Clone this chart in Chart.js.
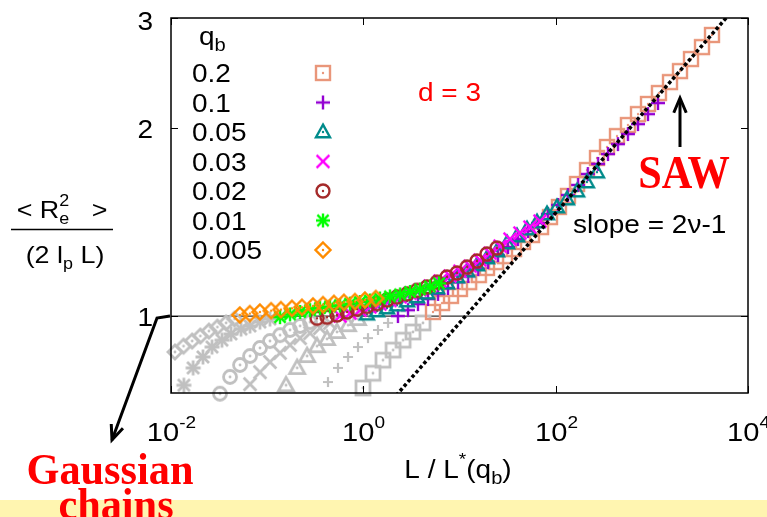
<!DOCTYPE html>
<html>
<head>
<meta charset="utf-8">
<script src="https://cdn.jsdelivr.net/npm/chart.js@4/dist/chart.umd.min.js"></script>
<style>
  html, body { margin: 0; padding: 0; background: #fff; }
  canvas { display: block; }
</style>
</head>
<body>
<canvas id="c" width="767" height="517"></canvas>
<script>
// ---- data: <Re^2>/(2 lp L) against L/L*(qb) ----
const qbLabels = ['0.2', '0.1', '0.05', '0.03', '0.02', '0.01', '0.005'];

// qb = 0.2
const q020_x = [5.30, 6.58, 8.15, 10.1, 12.6, 15.9, 19.3, 24.0, 29.7, 36.9, 45.7, 56.7, 70.4, 87.2, 108, 134, 167, 212, 269, 342, 434, 564, 717, 912, 1185, 1544, 1961, 2552, 3321, 4219];
const q020_y = [1.015, 1.049, 1.077, 1.105, 1.133, 1.163, 1.194, 1.220, 1.247, 1.280, 1.314, 1.348, 1.388, 1.440, 1.495, 1.557, 1.627, 1.713, 1.791, 1.865, 1.941, 2.022, 2.105, 2.185, 2.275, 2.369, 2.467, 2.579, 2.695, 2.818];
const q020g_x = [0.992, 1.26, 1.60, 2.04, 2.59, 3.28, 4.17];
const q020g_y = [0.767, 0.810, 0.850, 0.882, 0.915, 0.943, 0.975];

// qb = 0.1
const q010_x = [2.29, 2.91, 3.70, 4.70, 5.98, 7.59, 9.65, 12.3, 15.6, 19.8, 25.1, 31.9, 40.5, 51.5, 65.5, 83.1, 106, 134, 171, 216, 276, 350, 444, 564, 718, 911, 1158];
const q010_y = [1.000, 1.022, 1.045, 1.065, 1.085, 1.109, 1.133, 1.159, 1.189, 1.220, 1.252, 1.290, 1.328, 1.368, 1.409, 1.457, 1.506, 1.562, 1.621, 1.688, 1.752, 1.817, 1.885, 1.956, 2.029, 2.105, 2.193];
const q010g_x = [0.429, 0.545, 0.693, 0.880, 1.118, 1.420, 1.806];
const q010g_y = [0.784, 0.826, 0.860, 0.892, 0.922, 0.950, 0.975];

// qb = 0.05
const q005_x = [1.09, 1.39, 1.76, 2.24, 2.85, 3.61, 4.59, 5.84, 7.41, 9.42, 12.0, 15.2, 19.3, 24.5, 31.2, 39.6, 50.3, 63.9, 81.2, 103, 131, 167, 211, 269];
const q005_y = [1.007, 1.019, 1.030, 1.041, 1.057, 1.073, 1.088, 1.109, 1.129, 1.155, 1.180, 1.207, 1.239, 1.271, 1.309, 1.343, 1.378, 1.414, 1.457, 1.495, 1.539, 1.585, 1.639, 1.700];
const q005g_x = [0.157, 0.205, 0.260, 0.330, 0.419, 0.532, 0.693, 0.880];
const q005g_y = [0.775, 0.826, 0.863, 0.895, 0.919, 0.943, 0.967, 0.989];

// qb = 0.03
const q003_x = [0.572, 0.727, 0.923, 1.17, 1.49, 1.89, 2.41, 3.06, 3.88, 4.93, 6.27, 7.96, 10.1, 12.9, 16.3, 20.8, 26.4, 33.5, 42.5, 54.0, 68.7];
const q003_y = [1.000, 1.011, 1.022, 1.034, 1.045, 1.059, 1.073, 1.087, 1.101, 1.117, 1.138, 1.159, 1.180, 1.202, 1.229, 1.261, 1.294, 1.328, 1.358, 1.388, 1.419];
const q003g_x = [0.0663, 0.0842, 0.107, 0.136, 0.173, 0.220, 0.279, 0.354, 0.450];
const q003g_y = [0.778, 0.813, 0.844, 0.873, 0.899, 0.922, 0.939, 0.957, 0.975];

// qb = 0.02
const q002_x = [0.330, 0.419, 0.532, 0.677, 0.859, 1.09, 1.39, 1.76, 2.24, 2.85, 3.61, 4.59, 5.84, 7.41, 9.42, 12.0, 15.2, 19.3, 24.5];
const q002_y = [0.992, 0.996, 1.004, 1.015, 1.026, 1.036, 1.047, 1.061, 1.073, 1.085, 1.099, 1.113, 1.133, 1.155, 1.172, 1.198, 1.225, 1.257, 1.285];
const q002g_x = [0.0323, 0.0411, 0.0522, 0.0663, 0.0842, 0.107, 0.136, 0.173, 0.220, 0.279];
const q002g_y = [0.751, 0.799, 0.835, 0.863, 0.889, 0.912, 0.932, 0.950, 0.964, 0.978];

// qb = 0.01
const q001_x = [0.136, 0.173, 0.220, 0.279, 0.354, 0.450, 0.572, 0.727, 0.923, 1.17, 1.49, 1.89, 2.41, 3.06, 3.88, 4.93, 6.12];
const q001_y = [0.996, 1.006, 1.015, 1.022, 1.030, 1.036, 1.041, 1.047, 1.053, 1.059, 1.067, 1.075, 1.083, 1.093, 1.103, 1.115, 1.128];
const q001g_x = [0.0136, 0.0170, 0.0215, 0.0267, 0.0339, 0.0421, 0.0535, 0.0663, 0.0842, 0.107];
const q001g_y = [0.775, 0.826, 0.860, 0.892, 0.915, 0.936, 0.953, 0.964, 0.978, 0.989];

// qb = 0.005
const q0005_x = [0.052, 0.066, 0.084, 0.110, 0.139, 0.181, 0.230, 0.300, 0.381, 0.495, 0.629, 0.819, 1.04, 1.35];
const q0005_y = [1.004, 1.009, 1.015, 1.020, 1.024, 1.029, 1.033, 1.038, 1.043, 1.048, 1.052, 1.055, 1.061, 1.067];
const q0005g_x = [0.0110, 0.0135, 0.0166, 0.0202, 0.0248, 0.0304, 0.0374, 0.0458];
const q0005g_y = [0.876, 0.895, 0.912, 0.929, 0.946, 0.960, 0.975, 0.989];

// SAW asymptote (slope 2nu-1) and the Gaussian reference level
const sawLine_x = [1.5, 10000];
const sawLine_y = [0.698, 3.29];
const unitLine_x = [0.01, 10000];
const unitLine_y = [1, 1];

// axes
const xTickExps = [-2, 0, 2, 4];
const yTicks = [1, 2, 3];
const X_MIN = 0.01, X_MAX = 10000, Y_MIN = 0.753, Y_MAX = 3;

// ---- marker glyphs ----
function marker(kind, color, s, lw) {
  const pad = Math.ceil(lw) + 2;
  const n = 2 * Math.ceil(s + pad);
  const cv = document.createElement('canvas');
  cv.width = n; cv.height = n;
  const g = cv.getContext('2d');
  g.translate(n / 2, n / 2);
  g.strokeStyle = color; g.fillStyle = color; g.lineWidth = lw;
  g.lineCap = 'butt'; g.lineJoin = 'miter';
  const dot = () => { g.beginPath(); g.arc(0, 0, Math.max(1, lw * 0.5), 0, Math.PI * 2); g.fill(); };
  const plus = () => { g.beginPath(); g.moveTo(-s, 0); g.lineTo(s, 0); g.moveTo(0, -s); g.lineTo(0, s); g.stroke(); };
  const cross = () => { const d = s * 0.8; g.beginPath(); g.moveTo(-d, -d); g.lineTo(d, d); g.moveTo(-d, d); g.lineTo(d, -d); g.stroke(); };
  switch (kind) {
    case 'square': g.strokeRect(-s, -s, 2 * s, 2 * s); dot(); break;
    case 'plus': plus(); break;
    case 'cross': cross(); break;
    case 'triangle':
      g.beginPath(); g.moveTo(0, -s * 1.05); g.lineTo(s, s * 0.75); g.lineTo(-s, s * 0.75); g.closePath(); g.stroke(); dot(); break;
    case 'circle': g.beginPath(); g.arc(0, 0, s, 0, Math.PI * 2); g.stroke(); dot(); break;
    case 'star': plus(); cross(); break;
    case 'diamond':
      g.beginPath(); g.moveTo(0, -s); g.lineTo(s, 0); g.lineTo(0, s); g.lineTo(-s, 0); g.closePath(); g.stroke(); dot(); break;
  }
  return cv;
}

const GRAY = '#c0c0c0';
const series = [
  { x: q020_x,  y: q020_y,  gx: q020g_x,  gy: q020g_y,  kind: 'square',   color: '#e9967a', s: 7,   gs: 7,   glw: 2.8 },
  { x: q010_x,  y: q010_y,  gx: q010g_x,  gy: q010g_y,  kind: 'plus',     color: '#9400d3', s: 7,   gs: 5,   glw: 2.2 },
  { x: q005_x,  y: q005_y,  gx: q005g_x,  gy: q005g_y,  kind: 'triangle', color: '#008b8b', s: 7,   gs: 7.5, glw: 2.8 },
  { x: q003_x,  y: q003_y,  gx: q003g_x,  gy: q003g_y,  kind: 'cross',    color: '#ff00ff', s: 8,   gs: 8,   glw: 2.8 },
  { x: q002_x,  y: q002_y,  gx: q002g_x,  gy: q002g_y,  kind: 'circle',   color: '#a52a2a', s: 6.5, gs: 6.5, glw: 2.8 },
  { x: q001_x,  y: q001_y,  gx: q001g_x,  gy: q001g_y,  kind: 'star',     color: '#00ff00', s: 7,   gs: 7.5, glw: 2.8 },
  { x: q0005_x, y: q0005_y, gx: q0005g_x, gy: q0005g_y, kind: 'diamond',  color: '#ff8c00', s: 7.5, gs: 7,   glw: 2.8 }
];
series.forEach(sr => {
  sr.img = marker(sr.kind, sr.color, sr.s, 2.4);
  sr.gimg = marker(sr.kind, GRAY, sr.gs, sr.glw);
});

const pts = (xs, ys) => xs.map((x, i) => ({ x, y: ys[i] }));

const datasets = [];
datasets.push({ data: pts(unitLine_x, unitLine_y), showLine: true, borderColor: '#333', borderWidth: 1.3, pointRadius: 0, order: 100 });
series.forEach((sr, i) => {
  datasets.push({ data: pts(sr.gx, sr.gy), pointStyle: sr.gimg, pointRadius: 6, showLine: false, clip: false, order: 50 + i });
});
series.forEach((sr, i) => {
  // smaller qb values are drawn on top
  datasets.push({ data: pts(sr.x, sr.y), pointStyle: sr.img, pointRadius: 6, showLine: false, clip: false, order: 30 - i });
});
datasets.push({ data: pts(sawLine_x, sawLine_y), showLine: true, borderColor: '#000', borderWidth: 3.5, borderDash: [3.5, 2.5], pointRadius: 0, order: 1 });

// ---- text helpers ----
const SANS = '"Liberation Sans", Arial, sans-serif';
const SERIF = '"Liberation Serif", "Times New Roman", serif';
const SX = 1.12; // sans text is drawn slightly wide

// parts: { t, size, dy, w (weight), fam, stay (no advance) }
function rich(ctx, parts, x, y, align, sx, color) {
  let w = 0;
  parts.forEach(p => {
    ctx.font = (p.w || '') + ' ' + p.size + 'px ' + (p.fam || SANS);
    p.width = ctx.measureText(p.t).width;
    if (!p.stay) w += p.width;
  });
  const x0 = align === 'center' ? x - w * sx / 2 : align === 'right' ? x - w * sx : x;
  ctx.save();
  ctx.translate(x0, y);
  ctx.scale(sx, 1);
  ctx.fillStyle = color || '#000';
  ctx.textBaseline = 'alphabetic';
  ctx.textAlign = 'left';
  let ox = 0;
  parts.forEach(p => {
    ctx.font = (p.w || '') + ' ' + p.size + 'px ' + (p.fam || SANS);
    ctx.fillText(p.t, ox, p.dy || 0);
    if (!p.stay) ox += p.width;
  });
  ctx.restore();
}

function arrowHead(ctx, x0, y0, x1, y1, len, ang) {
  const a = Math.atan2(y1 - y0, x1 - x0);
  ctx.beginPath();
  ctx.moveTo(x1 - len * Math.cos(a - ang), y1 - len * Math.sin(a - ang));
  ctx.lineTo(x1, y1);
  ctx.lineTo(x1 - len * Math.cos(a + ang), y1 - len * Math.sin(a + ang));
  ctx.stroke();
}

const decor = {
  id: 'decor',
  beforeDraw(chart) {
    const ctx = chart.ctx;
    ctx.save();
    ctx.fillStyle = '#fff';
    ctx.fillRect(0, 0, chart.width, chart.height);
    ctx.fillStyle = '#fff5b0';
    ctx.fillRect(0, 500, chart.width, chart.height - 500);
    ctx.restore();
  },
  afterDatasetsDraw(chart) {
    const ctx = chart.ctx;
    const a = chart.chartArea;
    const xs = chart.scales.x, ys = chart.scales.y;
    ctx.save();
    // frame
    ctx.strokeStyle = '#000';
    ctx.lineWidth = 1.5;
    ctx.strokeRect(a.left, a.top, a.right - a.left, a.bottom - a.top);
    // ticks (inward, mirrored)
    ctx.lineWidth = 1;
    xTickExps.forEach(e => {
      const px = Math.round(xs.getPixelForValue(Math.pow(10, e))) + 0.5;
      ctx.beginPath();
      ctx.moveTo(px, a.bottom); ctx.lineTo(px, a.bottom - 7);
      ctx.moveTo(px, a.top); ctx.lineTo(px, a.top + 7);
      ctx.stroke();
      rich(ctx, [{ t: '10', size: 26 }, { t: String(e), size: 17, dy: -13 }], px, 441, 'center', SX);
    });
    yTicks.forEach(v => {
      const py = Math.round(ys.getPixelForValue(v)) + 0.5;
      ctx.beginPath();
      ctx.moveTo(a.left, py); ctx.lineTo(a.left + 7, py);
      ctx.moveTo(a.right, py); ctx.lineTo(a.right - 7, py);
      ctx.stroke();
      rich(ctx, [{ t: String(v), size: 25 }], 153, Math.max(py, 21) + 9, 'right', SX);
    });

    // legend
    rich(ctx, [{ t: 'q', size: 25 }, { t: 'b', size: 18, dy: 6 }], 199, 45, 'left', SX);
    series.forEach((sr, i) => {
      const cy = 73 + i * 29.5;
      rich(ctx, [{ t: qbLabels[i], size: 25 }], 192, cy + 9, 'left', SX);
      ctx.drawImage(sr.img, 323 - sr.img.width / 2, cy - sr.img.height / 2);
    });

    // annotations
    rich(ctx, [{ t: 'd = 3', size: 25 }], 418, 101, 'left', SX, '#ff0000');
    rich(ctx, [{ t: 'slope = 2\u03bd-1', size: 25 }], 573, 233, 'left', SX);
    rich(ctx, [{ t: 'SAW', size: 46, w: 'bold', fam: SERIF }], 684, 188, 'center', 0.92, '#ff0000');
    rich(ctx, [{ t: 'Gaussian', size: 45, w: 'bold', fam: SERIF }], 110, 484, 'center', 0.94, '#ff0000');
    rich(ctx, [{ t: 'chains', size: 45, w: 'bold', fam: SERIF }], 116, 519, 'center', 0.94, '#ff0000');

    // arrows
    ctx.strokeStyle = '#000';
    ctx.lineWidth = 3;
    ctx.lineJoin = 'miter';
    ctx.beginPath();
    ctx.moveTo(680, 147); ctx.lineTo(680, 99);
    ctx.stroke();
    arrowHead(ctx, 680, 147, 680, 98, 16, 0.4);
    ctx.beginPath();
    ctx.moveTo(a.left - 1, ys.getPixelForValue(1));
    ctx.lineTo(157, 318);
    ctx.lineTo(112, 440);
    ctx.stroke();
    arrowHead(ctx, 157, 318, 112, 440, 16, 0.4);

    // axis titles
    rich(ctx, [{ t: 'L / L', size: 25 }, { t: '*', size: 17, dy: -13 }, { t: '(q', size: 25 }, { t: 'b', size: 18, dy: 6 }, { t: ')', size: 25 }], 458, 478, 'center', SX);
    rich(ctx, [{ t: '< R', size: 24 }, { t: '2', size: 16, dy: -12, stay: true }, { t: 'e', size: 16, dy: 6 }, { t: '   >', size: 24 }], 62, 218, 'center', SX);
    ctx.lineWidth = 1.5;
    ctx.beginPath(); ctx.moveTo(11, 229.5); ctx.lineTo(113, 229.5); ctx.stroke();
    rich(ctx, [{ t: '(2 l', size: 24 }, { t: 'p', size: 16, dy: 6 }, { t: ' L)', size: 24 }], 65, 263, 'center', SX);
    ctx.restore();
  }
};

new Chart(document.getElementById('c'), {
  type: 'scatter',
  data: { datasets },
  options: {
    responsive: false,
    animation: false,
    devicePixelRatio: 1,
    layout: { padding: { left: 171, top: 18, right: 19, bottom: 124 } },
    plugins: { legend: { display: false }, tooltip: { enabled: false } },
    scales: {
      x: { type: 'logarithmic', min: X_MIN, max: X_MAX, display: false },
      y: { type: 'logarithmic', min: Y_MIN, max: Y_MAX, display: false }
    }
  },
  plugins: [decor]
});
</script>
</body>
</html>
